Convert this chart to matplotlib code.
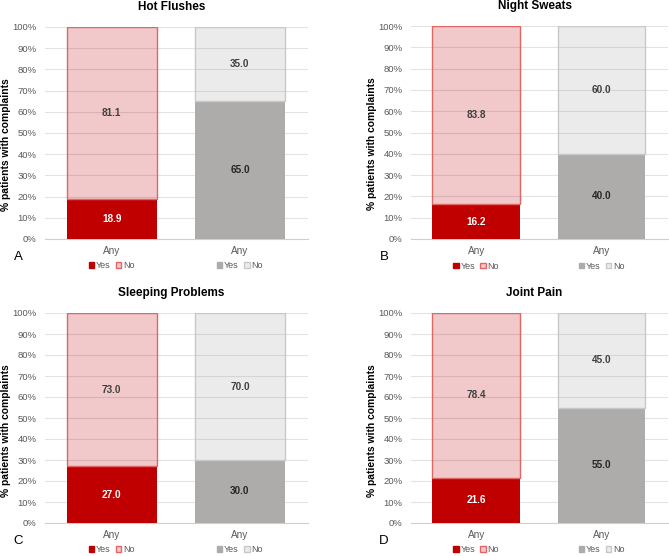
import matplotlib
matplotlib.use("Agg")
import matplotlib.pyplot as plt
from matplotlib.patches import Patch
from matplotlib.ticker import PercentFormatter

plt.rcParams['font.family'] = ['Liberation Sans', 'DejaVu Sans']

# data
titulos = ["Hot Flushes", "Night Sweats", "Sleeping Problems", "Joint Pain"]
letras = ["A", "B", "C", "D"]
categorias = ["Any", "Any"]
si_rojo = [18.9, 16.2, 27.0, 21.6]
no_rojo = [81.1, 83.8, 73.0, 78.4]
si_gris = [65.0, 40.0, 30.0, 55.0]
no_gris = [35.0, 60.0, 70.0, 45.0]
leyenda = ["Yes", "No"]

ROJO = "#C00000"
ROSA = (0.75, 0.0, 0.02, 0.21)
BORDE_ROSA = "#E06666"
GRIS = "#AEABAB"
GRIS_CLARO = (0.6, 0.58, 0.58, 0.18)
BORDE_GRIS = "#C8C8C8"
TEXTO = "#595959"

W, H = 669, 556
fig = plt.figure(figsize=(W / 100, H / 100), dpi=100)

# (left, right, top, bottom) in pixels of the plot area for each panel
cajas = [(45, 308, 27, 239), (411, 668, 26, 239),
         (45, 308, 313, 523), (411, 668, 313, 523)]

for i in range(4):
    l, r, t, b = cajas[i]
    ax = fig.add_axes([l / W, 1 - b / H, (r - l) / W, (b - t) / H])
    x = [0, 1]
    ancho = 0.70
    ax.bar(0, si_rojo[i], ancho, color=ROJO, zorder=3)
    ax.bar(0, no_rojo[i], ancho, bottom=si_rojo[i], facecolor=ROSA,
           edgecolor=BORDE_ROSA, linewidth=1, zorder=3)
    ax.bar(1, si_gris[i], ancho, color=GRIS, zorder=3)
    ax.bar(1, no_gris[i], ancho, bottom=si_gris[i], facecolor=GRIS_CLARO,
           edgecolor=BORDE_GRIS, linewidth=1, zorder=3)

    # etiquetas de valores
    ax.text(0, si_rojo[i] / 2, f"{si_rojo[i]:.1f}", ha="center", va="center",
            color="white", fontsize=7.2, fontweight="bold", zorder=4)
    ax.text(0, si_rojo[i] + no_rojo[i] / 2, f"{no_rojo[i]:.1f}", ha="center",
            va="center", color="#404040", fontsize=7.2, fontweight="bold", zorder=4)
    ax.text(1, si_gris[i] / 2, f"{si_gris[i]:.1f}", ha="center", va="center",
            color="#262626", fontsize=7.2, fontweight="bold", zorder=4)
    ax.text(1, si_gris[i] + no_gris[i] / 2, f"{no_gris[i]:.1f}", ha="center",
            va="center", color="#404040", fontsize=7.2, fontweight="bold", zorder=4)

    ax.set_xlim(-0.52, 1.53)
    ax.set_ylim(0, 100)
    ax.set_yticks(range(0, 101, 10))
    ax.yaxis.set_major_formatter(PercentFormatter(decimals=0))
    ax.set_xticks(x)
    ax.set_xticklabels(categorias)
    ax.tick_params(axis="both", length=0, labelcolor=TEXTO)
    ax.tick_params(axis="y", labelsize=6.8, pad=6)
    ax.tick_params(axis="x", labelsize=7.2, pad=5)
    ax.grid(axis="y", color="#E3E3E3", linewidth=0.8, zorder=0)
    for s in ["top", "right", "left"]:
        ax.spines[s].set_visible(False)
    ax.spines["bottom"].set_color("#D0D0D0")

    # leyendas debajo de cada barra
    h1 = [Patch(facecolor=ROJO, edgecolor=ROJO),
          Patch(facecolor=ROSA, edgecolor=BORDE_ROSA)]
    h2 = [Patch(facecolor=GRIS, edgecolor=GRIS),
          Patch(facecolor=GRIS_CLARO, edgecolor=BORDE_GRIS)]
    for k, hs in enumerate([h1, h2]):
        xc = (k + 0.52) / 2.05
        lg = ax.legend(hs, leyenda, loc="center", bbox_to_anchor=(xc, -0.127),
                       ncol=2, frameon=False, fontsize=6.5, handlelength=0.6,
                       handleheight=0.6, handletextpad=0.2, columnspacing=0.6,
                       borderpad=0, labelcolor=TEXTO)
        if k == 0:
            ax.add_artist(lg)

    # titulo, eje y, letra
    cx = (l + r) / 2 - 5
    fig.text(cx / W, 1 - (t - 20) / H, titulos[i], ha="center", va="center",
             fontsize=8.5, fontweight="bold")
    fig.text((l - 39) / W, 1 - (t + 118) / H, "% patients with complaints",
             rotation=90, ha="center", va="center", fontsize=7.4,
             fontweight="bold")
    fig.text((l - 27) / W, 1 - (b + 18) / H, letras[i], ha="center",
             va="center", fontsize=9.5)

fig.savefig("out.png", dpi=100)
